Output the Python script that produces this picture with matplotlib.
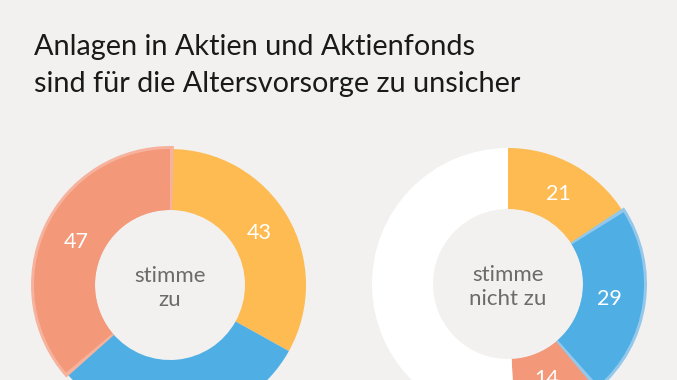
import matplotlib
matplotlib.use("Agg")
import matplotlib.pyplot as plt
from matplotlib.patches import Wedge
import numpy as np

# ---- data ----
title_lines = ["Anlagen in Aktien und Aktienfonds",
               "sind für die Altersvorsorge zu unsicher"]
zu_values = [43, 40, 47]
nicht_zu_values = [21, 29, 14]
segment_colors = ["#FDBB51", "#4FAEE3", "#F4987A"]
highlight_colors = ["#FDD08A", "#93C8EA", "#F6B29C"]
center_labels = ["stimme\nzu", "stimme\nnicht zu"]

BG = "#F2F1F0"
W, H = 677, 380
fig = plt.figure(figsize=(W / 100, H / 100), dpi=100, facecolor=BG)
ax = fig.add_axes([0, 0, 1, 1])
ax.set_facecolor(BG)

FONT = "Lato"
total = sum(zu_values)
R, WD = 136, 61

def donut(cx, cy, values, highlight_idx, center_text):
    vals = list(values)
    cols = list(segment_colors[:len(values)])
    rest = total - sum(values)
    if rest > 0:
        vals.append(rest)
        cols.append("#FFFFFF")
    wedges, _ = ax.pie(vals, colors=cols, startangle=90, counterclock=False,
                       radius=R, center=(cx, cy),
                       wedgeprops=dict(width=WD, linewidth=0))
    # halo around hovered slice
    hw = wedges[highlight_idx]
    halo = Wedge((cx, cy), R + 3, hw.theta1 - 1.6, hw.theta2 + 1.6,
                 width=WD + 3, facecolor=highlight_colors[highlight_idx],
                 linewidth=0, zorder=hw.get_zorder() + 0.5)
    ax.add_patch(halo)
    hw.set_zorder(hw.get_zorder() + 1)
    # value labels
    cum = 0
    for v in values:
        mid = cum + v / 2
        theta = np.deg2rad(90 - mid / total * 360)
        r = 103
        x, y = cx + r * np.cos(theta), cy + r * np.sin(theta)
        cum += v
        if y < 0:
            continue  # label lies below the visible canvas
        ax.text(x, y, str(v), ha="center", va="center", color="white",
                fontsize=15.5, family=FONT, zorder=5)
    ax.text(cx, cy - 3, center_text, ha="center", va="center",
            color="#6B6B6B", fontsize=16, family=FONT, linespacing=1.25,
            zorder=5)

donut(170, 95, zu_values, 2, center_labels[0])
donut(508, 96, nicht_zu_values, 1, center_labels[1])

ax.set_xlim(0, W)
ax.set_ylim(0, H)
ax.set_aspect("auto")
ax.axis("off")

fig.text(34 / W, 1 - 55 / H, title_lines[0], ha="left", va="baseline",
         fontsize=20.8, family=FONT, color="#1A1A1A")
fig.text(34 / W, 1 - 92 / H, title_lines[1], ha="left", va="baseline",
         fontsize=20.8, family=FONT, color="#1A1A1A")

fig.savefig("out.png", dpi=100, facecolor=BG)
